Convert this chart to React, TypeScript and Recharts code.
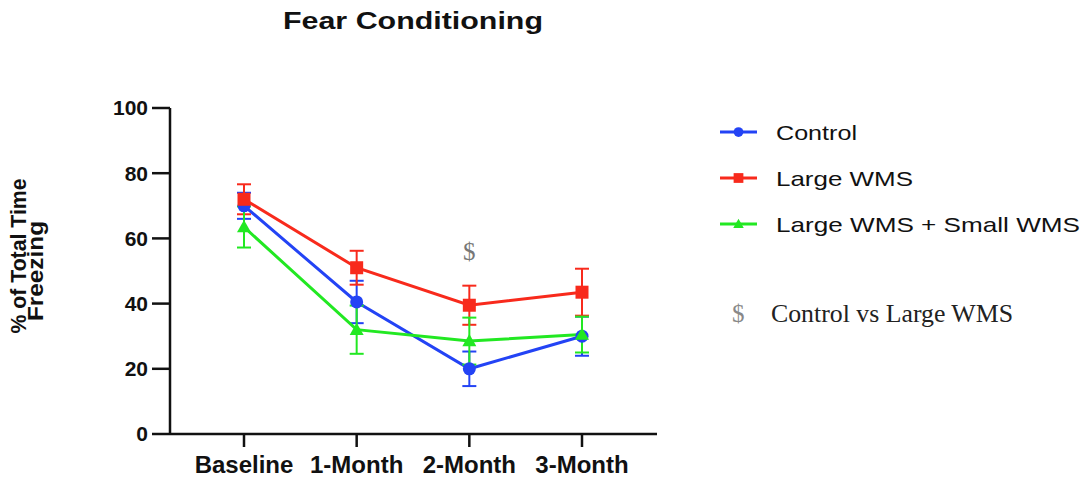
import { ErrorBar, Line, LineChart, ReferenceDot, XAxis, YAxis } from "recharts"

const timepoints = ["Baseline", "1-Month", "2-Month", "3-Month"]
const controlMean = [70, 40.5, 20, 30]
const controlErr = [4, 6.5, 5.3, 6]
const largeMean = [72, 51, 39.5, 43.5]
const largeErr = [4.6, 5.2, 6, 7.2]
const comboMean = [63.5, 32, 28.5, 30.5]
const comboErr = [6.3, 7.4, 7.2, 5.5]
const yTicks = [0, 20, 40, 60, 80, 100]

const BLUE = "#2343f5"
const RED = "#f82a1c"
const GREEN = "#22e822"
const SANS = "'Liberation Sans', Arial, Helvetica, sans-serif"
const SERIF = "'Liberation Serif', 'Times New Roman', serif"

const data = timepoints.map((t, i) => ({
    name: t,
    control: controlMean[i],
    controlErr: controlErr[i],
    large: largeMean[i],
    largeErr: largeErr[i],
    combo: comboMean[i],
    comboErr: comboErr[i],
}))

// legend text widths
const series = [
    { key: "control", label: "Control", color: BLUE, shape: "circle", textLen: 81 },
    { key: "large", label: "Large WMS", color: RED, shape: "square", textLen: 137 },
    { key: "combo", label: "Large WMS + Small WMS", color: GREEN, shape: "triangle", textLen: 304 },
]

// marker shapes drawn at point centre
function Marker({ cx, cy, shape, color, size = 1 }: any) {
    if (cx == null || cy == null) return null
    if (shape === "square") {
        const s = 6.5 * size
        return <rect x={cx - s} y={cy - s} width={s * 2} height={s * 2} fill={color} />
    }
    if (shape === "triangle") {
        const s = 7 * size
        return <polygon points={`${cx},${cy - s} ${cx + s},${cy + s * 0.75} ${cx - s},${cy + s * 0.75}`} fill={color} />
    }
    return <circle cx={cx} cy={cy} r={6.5 * size} fill={color} />
}

function YLabel() {
    return (
        <g fontFamily={SANS} fontWeight="bold" fontSize={22} fill="#111" textAnchor="middle">
            <text x={26} y={256} transform="rotate(-90, 26, 256)" textLength={155} lengthAdjust="spacingAndGlyphs">
                % of Total Time
            </text>
            <text x={43} y={271} transform="rotate(-90, 43, 271)" textLength={100} lengthAdjust="spacingAndGlyphs">
                Freezing
            </text>
        </g>
    )
}

function Overlay() {
    return (
        <svg width={1086} height={481} style={{ position: "absolute", left: 0, top: 0, pointerEvents: "none" }}>
            <text
                x={283}
                y={29}
                fontFamily={SANS}
                fontWeight="bold"
                fontSize={23}
                fill="#111"
                textLength={260}
                lengthAdjust="spacingAndGlyphs"
            >
                Fear Conditioning
            </text>
            {series.map((s, i) => {
                const cy = 132 + i * 46
                return (
                    <g key={s.key}>
                        <line x1={720} y1={cy} x2={757} y2={cy} stroke={s.color} strokeWidth={3} />
                        <Marker cx={738.5} cy={cy} shape={s.shape} color={s.color} size={0.75} />
                        <text
                            x={776}
                            y={cy + 8}
                            fontFamily={SANS}
                            fontSize={21}
                            fill="#111"
                            textLength={s.textLen}
                            lengthAdjust="spacingAndGlyphs"
                        >
                            {s.label}
                        </text>
                    </g>
                )
            })}
            <text x={732} y={322} fontFamily={SERIF} fontSize={25} fill="#888">
                $
            </text>
            <text
                x={771}
                y={322}
                fontFamily={SERIF}
                fontSize={25}
                fill="#222"
                textLength={242}
                lengthAdjust="spacingAndGlyphs"
            >
                Control vs Large WMS
            </text>
        </svg>
    )
}

export default function App() {
    return (
        <div style={{ position: "absolute", left: 0, top: 0, width: 1086, height: 481, background: "#fff" }}>
            <LineChart width={1086} height={481} data={data} margin={{ top: 108, right: 429, left: 110, bottom: 0 }}>
                <XAxis
                    dataKey="name"
                    padding={{ left: 74, right: 75 }}
                    height={47}
                    tickSize={13}
                    tickMargin={9}
                    stroke="#111"
                    strokeWidth={2.5}
                    tick={{ fontSize: 24, fontWeight: "bold", fill: "#111", fontFamily: SANS }}
                />
                <YAxis
                    width={60}
                    domain={[0, 100]}
                    ticks={yTicks}
                    tickSize={18}
                    tickMargin={4}
                    stroke="#111"
                    strokeWidth={2.5}
                    tick={{ fontSize: 21, fontWeight: "bold", fill: "#111", fontFamily: SANS }}
                    label={{ content: () => <YLabel /> }}
                />
                {series.map((s) => (
                    <Line
                        key={s.key}
                        dataKey={s.key}
                        stroke={s.color}
                        strokeWidth={3}
                        isAnimationActive={false}
                        dot={(p: any) => <Marker key={`${s.key}-${p.index}`} cx={p.cx} cy={p.cy} shape={s.shape} color={s.color} />}
                        activeDot={false}
                    >
                        <ErrorBar dataKey={`${s.key}Err`} width={7} stroke={s.color} strokeWidth={2} direction="y" />
                    </Line>
                ))}
                <ReferenceDot
                    x="2-Month"
                    y={56}
                    r={0}
                    fill="none"
                    stroke="none"
                    label={{ value: "$", position: "center", fontFamily: SERIF, fontSize: 25, fill: "#777" }}
                />
            </LineChart>
            <Overlay />
        </div>
    )
}
